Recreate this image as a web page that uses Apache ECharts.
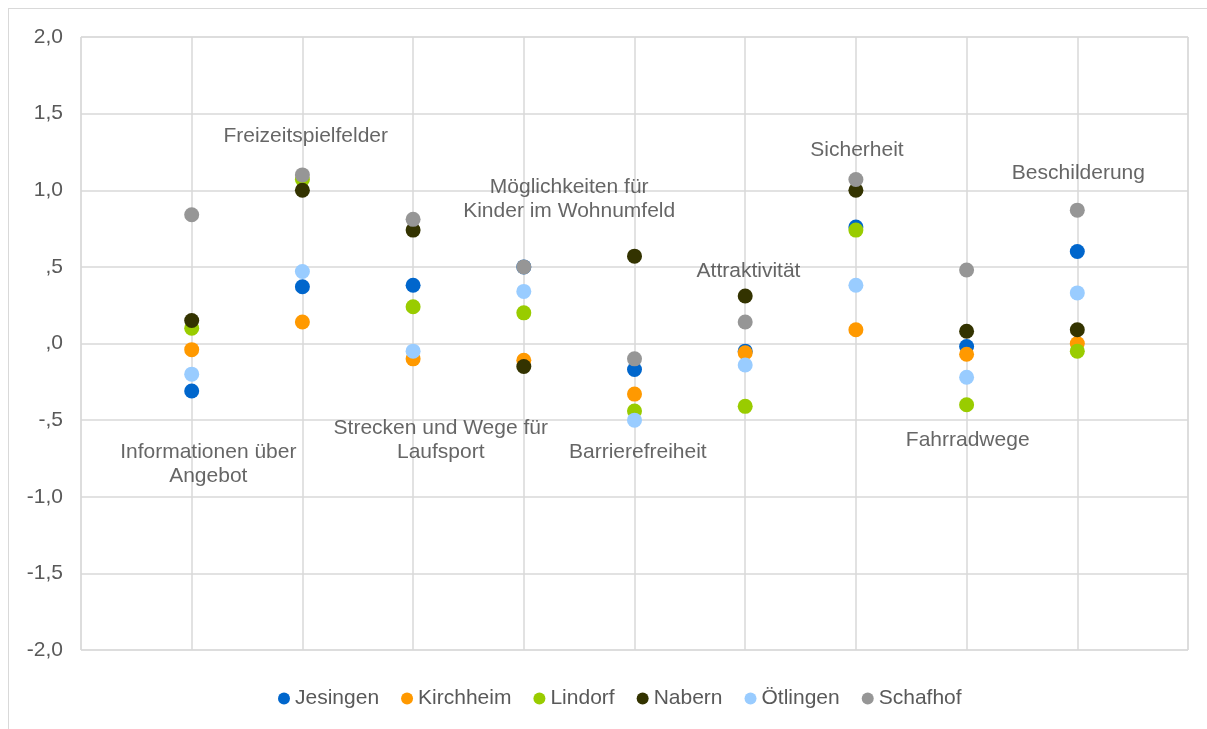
<!DOCTYPE html>
<html>
<head>
<meta charset="utf-8">
<script src="https://cdn.jsdelivr.net/npm/echarts@6/dist/echarts.min.js"></script>
<style>
  html, body { margin: 0; padding: 0; background: #fff; }
  #frame { position: absolute; left: 8px; top: 8px; width: 1210px; height: 740px; border: 1px solid #d9d9d9; }
  #chart { position: absolute; left: 0; top: 0; width: 1207px; height: 729px; }
</style>
</head>
<body>
<div id="frame"></div>
<div id="chart"></div>
<script>
// Kategorien (Position 1..9 auf der x-Achse)
var categories = ['Informationen über\nAngebot', 'Freizeitspielfelder', 'Strecken und Wege für\nLaufsport',
  'Möglichkeiten für\nKinder im Wohnumfeld', 'Barrierefreiheit', 'Attraktivität', 'Sicherheit',
  'Fahrradwege', 'Beschilderung'];

var jesingen  = [-0.31, 0.37, 0.38, 0.50, -0.17, -0.05, 0.76, -0.02, 0.60];
var kirchheim = [-0.04, 0.14, -0.10, -0.11, -0.33, -0.06, 0.09, -0.07, 0.00];
var lindorf   = [0.10, 1.07, 0.24, 0.20, -0.44, -0.41, 0.74, -0.40, -0.05];
var nabern    = [0.15, 1.00, 0.74, -0.15, 0.57, 0.31, 1.00, 0.08, 0.09];
var oetlingen = [-0.20, 0.47, -0.05, 0.34, -0.50, -0.14, 0.38, -0.22, 0.33];
var schafhof  = [0.84, 1.10, 0.81, 0.50, -0.10, 0.14, 1.07, 0.48, 0.87];

var yTicks = [-2, -1.5, -1, -0.5, 0, 0.5, 1, 1.5, 2];

// wo die Kategorie-Beschriftung im Diagramm steht (x, y in Achsenwerten)
var labelX = [1.15, 2.03, 3.25, 4.41, 5.03, 6.03, 7.01, 8.01, 9.01];
var labelY = [-0.79, 1.35, -0.63, 0.94, -0.71, 0.47, 1.26, -0.63, 1.11];

function fmt(v) {
  var s = Math.abs(v).toFixed(1).replace('.', ',');
  if (s.charAt(0) === '0') s = s.substring(1);
  return (v < 0 ? '-' : '') + s;
}

function pts(arr) {
  var out = [];
  for (var i = 0; i < arr.length; i++) out.push([i + 1, arr[i]]);
  return out;
}

var names  = ['Jesingen', 'Kirchheim', 'Lindorf', 'Nabern', 'Ötlingen', 'Schafhof'];
var values = [jesingen, kirchheim, lindorf, nabern, oetlingen, schafhof];
var colors = ['#0066cc', '#ff9900', '#99cc00', '#333300', '#99ccff', '#969696'];

var series = [];
for (var s = 0; s < names.length; s++) {
  series.push({
    name: names[s],
    type: 'scatter',
    symbol: 'circle',
    symbolSize: 15,
    itemStyle: { color: colors[s], opacity: 1 },
    data: pts(values[s]),
    z: 2 + s
  });
}

var labelData = [];
for (var i = 0; i < categories.length; i++) {
  labelData.push({ value: [labelX[i], labelY[i]], name: categories[i] });
}
series.push({
  name: 'labels',
  type: 'scatter',
  symbolSize: 0,
  silent: true,
  data: labelData,
  label: {
    show: true,
    position: 'inside',
    formatter: function (p) { return p.name; },
    color: '#404040',
    fontSize: 21,
    lineHeight: 24,
    fontFamily: 'Liberation Sans, Arial, sans-serif'
  },
  z: 10
});

var myChart = echarts.init(document.getElementById('chart'));

var option = {
  animation: false,
  textStyle: { fontFamily: 'Liberation Sans, Arial, sans-serif' },
  grid: { left: 81, right: 19, top: 37, bottom: 79, containLabel: false, show: true, borderColor: '#d9d9d9', borderWidth: 1 },
  legend: {
    data: names,
    bottom: 15,
    left: 273,
    icon: 'circle',
    itemWidth: 12,
    itemHeight: 12,
    itemGap: 22,
    textStyle: { color: '#595959', fontSize: 21, fontFamily: 'Liberation Sans, Arial, sans-serif' }
  },
  xAxis: {
    type: 'value',
    min: 0,
    max: 10,
    interval: 1,
    axisLine: { show: false },
    axisTick: { show: false },
    axisLabel: { show: false },
    splitLine: { show: true, lineStyle: { color: '#d9d9d9', width: 1.5 } }
  },
  yAxis: {
    type: 'value',
    min: -2,
    max: 2,
    interval: 0.5,
    axisLine: { show: false },
    axisTick: { show: false },
    axisLabel: {
      margin: 18,
      color: '#595959',
      fontSize: 21,
      formatter: function (v) { return yTicks.indexOf(v) >= 0 ? fmt(v) : ''; }
    },
    splitLine: { show: true, lineStyle: { color: '#d9d9d9', width: 1.5 } }
  },
  series: series
};

myChart.setOption(option);
</script>
</body>
</html>
